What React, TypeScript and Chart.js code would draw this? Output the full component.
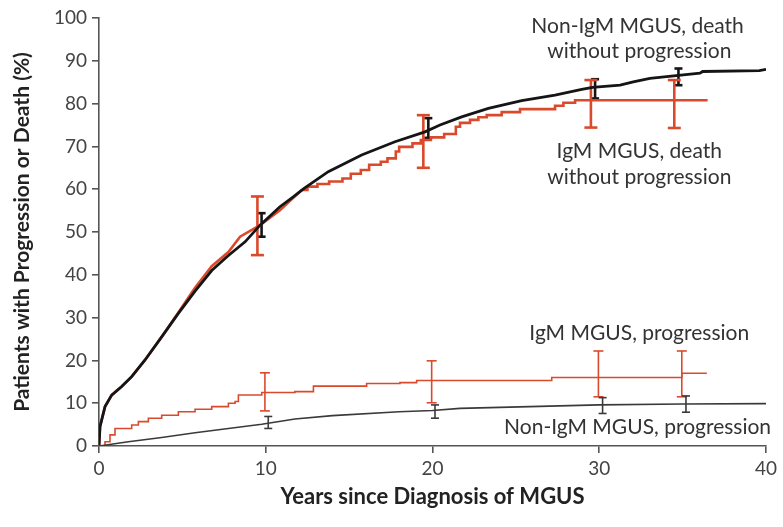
import React, { useEffect, useRef } from "react";
import { Chart, registerables } from "chart.js";

Chart.register(...registerables);

// ---- Data ----
const xTicks = [0, 10, 20, 30, 40];
const yTicks = [0, 10, 20, 30, 40, 50, 60, 70, 80, 90, 100];

// Non-IgM MGUS, death without progression (black, thick)
const nonIgmDeathYears = [0, 0.06, 0.36, 0.76, 1.36, 1.96, 2.76, 3.76, 4.76, 5.76, 6.76, 7.76, 8.76, 9.66, 10.85, 11.65, 12.3, 13.75, 15.75, 17.75, 19.55, 20.45, 21.75, 23.35, 25.35, 27.35, 28.95, 29.6, 31.25, 32.04, 33.04, 34.04, 35.04, 36.04, 36.2, 39.6, 40];
const nonIgmDeathPct = [0, 4.5, 9.2, 11.9, 13.9, 16.2, 20.1, 25.5, 31, 36.2, 41, 44.5, 47.7, 51.6, 55.9, 58.2, 60.2, 64.1, 68, 71.1, 73.4, 75, 76.9, 78.9, 80.7, 82, 83.3, 83.8, 84.3, 85.1, 85.9, 86.3, 86.7, 87.1, 87.5, 87.7, 88];

// IgM MGUS, death without progression (red, thick) - early smooth part
const igmDeathEarlyYears = [0, 0.06, 0.36, 0.76, 1.36, 1.96, 2.76, 3.76, 4.76, 5.76, 6.76, 7.76, 8.46, 9.66, 10.85, 11.65, 12.15];
const igmDeathEarlyPct = [0, 4.5, 9.2, 11.9, 13.9, 16.2, 20.1, 25.5, 31.2, 37, 42, 45.3, 48.9, 51.6, 55.1, 58, 59.8];
// later stepped part
const igmDeathLateYears = [12.15, 12.5, 13.1, 13.8, 14.6, 15.1, 15.7, 16.2, 16.9, 17.3, 17.8, 18.0, 18.8, 19.3, 19.9, 20.7, 21.4, 21.65, 22.25, 22.75, 23.25, 24.15, 25.25, 27.35, 27.85, 28.55, 36.5];
const igmDeathLatePct = [59.8, 60.6, 61.2, 61.8, 62.5, 63.6, 64.5, 65.7, 66.4, 67.2, 68.8, 69.9, 70.7, 71.5, 72.1, 72.9, 74.6, 75.5, 76.2, 76.8, 77.3, 78, 78.7, 79.5, 80.2, 80.8, 80.8];

// IgM MGUS, progression (red, thin, stepped)
const igmProgYears = [0, 0.36, 0.66, 0.96, 1.96, 2.36, 2.96, 3.76, 4.76, 5.76, 6.76, 7.76, 8.16, 8.36, 9.76, 11.75, 12.86, 16.05, 18.05, 19.05, 27.15, 34.95, 36.45];
const igmProgPct = [0, 1, 2.6, 4.1, 4.9, 5.7, 6.5, 7.2, 8.0, 8.6, 9.2, 10.0, 10.4, 11.9, 12.5, 12.7, 14, 14.6, 14.8, 15.3, 16, 17, 17];

// Non-IgM MGUS, progression (black, thin)
const nonIgmProgYears = [0, 1.76, 3.76, 5.76, 7.76, 9.76, 11.75, 14, 18, 20, 21.65, 30, 35, 40];
const nonIgmProgPct = [0, 1, 2, 3.1, 4.1, 5.1, 6.3, 7.1, 8.0, 8.3, 8.8, 9.6, 9.8, 9.9];

// Confidence intervals: [year, low, high]
const nonIgmDeathCI = [[9.75, 48.9, 54.4], [19.75, 72, 76.6], [29.75, 81.2, 85.7], [34.75, 84.3, 88.2]];
const igmDeathCI = [[9.5, 44.6, 58.3], [19.45, 65, 77.3], [29.5, 74.4, 85.5], [34.5, 74.3, 85.5]];
const igmProgCI = [[9.95, 8.2, 17.1], [19.95, 10.1, 19.9], [29.95, 11.5, 22.2], [34.95, 11.5, 22.2]];
const nonIgmProgCI = [[10.15, 4.1, 6.9], [20.15, 6.5, 9.6], [30.2, 7.6, 11.3], [35.2, 7.9, 11.7]];

// Curve labels: [text, year, pct]
const curveLabels: [string, number, number][] = [
  ["Non-IgM MGUS, death", 32.3, 98],
  ["without progression", 32.4, 92.2],
  ["IgM MGUS, death", 32.4, 68.8],
  ["without progression", 32.4, 62.9],
  ["IgM MGUS, progression", 32.4, 26.3],
  ["Non-IgM MGUS, progression", 32.3, 4.5],
];

const RED = "#d94a2c";
const BLACK = "#151515";
const DARK = "#3a3a3a";
const AXIS = "#555555";
const FONT = "Lato, 'Open Sans', sans-serif";

const pts = (xs: number[], ys: number[]) => xs.map((x, i) => ({ x, y: ys[i] }));

function curve(xs: number[], ys: number[], color: string, width: number, stepped: boolean) {
  return {
    type: "line" as const,
    data: pts(xs, ys),
    borderColor: color,
    borderWidth: width,
    pointRadius: 0,
    stepped: stepped,
    tension: 0,
    fill: false,
  };
}

function ciSets(ci: number[][], color: string, width: number, cap: number) {
  return ci.map(([x, lo, hi]) => ({
    type: "line" as const,
    data: [{ x, y: lo }, { x, y: hi }],
    borderColor: color,
    borderWidth: width,
    pointStyle: "line" as const,
    pointRadius: cap,
    pointBorderColor: color,
    pointBorderWidth: width,
    pointHoverRadius: cap,
    fill: false,
  }));
}

const labelPlugin = {
  id: "curveLabels",
  afterDatasetsDraw(chart: any) {
    const { ctx, scales } = chart;
    ctx.save();
    ctx.font = `21px ${FONT}`;
    ctx.fillStyle = "#333333";
    ctx.textAlign = "center";
    ctx.textBaseline = "middle";
    for (const [t, x, y] of curveLabels) {
      ctx.fillText(t, scales.x.getPixelForValue(x), scales.y.getPixelForValue(y));
    }
    ctx.restore();
  },
};

export default function App() {
  const ref = useRef<HTMLCanvasElement | null>(null);
  useEffect(() => {
    if (!ref.current) return;
    const chart = new Chart(ref.current, {
      type: "line",
      data: {
        datasets: [
          curve(nonIgmProgYears, nonIgmProgPct, DARK, 1.6, false),
          curve(igmProgYears, igmProgPct, RED, 1.6, true),
          curve(nonIgmDeathYears, nonIgmDeathPct, BLACK, 2.8, false),
          curve(igmDeathEarlyYears, igmDeathEarlyPct, RED, 2.6, false),
          curve(igmDeathLateYears, igmDeathLatePct, RED, 2.6, true),
          ...ciSets(nonIgmProgCI, DARK, 1.6, 4),
          ...ciSets(igmProgCI, RED, 1.6, 5),
          ...ciSets(igmDeathCI, RED, 2.6, 6.5),
          ...ciSets(nonIgmDeathCI, BLACK, 2.6, 4),
        ] as any,
      },
      options: {
        animation: false,
        responsive: false,
        layout: { padding: { left: 0, right: 17, top: 18, bottom: 0 } },
        plugins: { legend: { display: false }, tooltip: { enabled: false } },
        events: [],
        scales: {
          x: {
            type: "linear",
            min: 0,
            max: 40,
            afterFit: (s: any) => { s.height = 81; },
            afterBuildTicks: (s: any) => { s.ticks = xTicks.map((v) => ({ value: v })); },
            ticks: { color: "#444", font: { family: FONT, size: 19 }, padding: 4 },
            grid: { display: true, drawOnChartArea: false, drawTicks: true, tickLength: 7, color: AXIS, lineWidth: 1.6 },
            border: { display: true, color: AXIS, width: 1.6 },
            title: { display: true, text: "Years since Diagnosis of MGUS", color: "#222", font: { family: FONT, size: 22, weight: "bold" }, padding: { top: 0, bottom: 17 } },
          },
          y: {
            type: "linear",
            min: 0,
            max: 100,
            afterFit: (s: any) => { s.width = 99; },
            afterBuildTicks: (s: any) => { s.ticks = yTicks.map((v) => ({ value: v })); },
            ticks: { color: "#444", font: { family: FONT, size: 19 }, padding: 5 },
            grid: { display: true, drawOnChartArea: false, drawTicks: true, tickLength: 7, color: AXIS, lineWidth: 1.6 },
            border: { display: true, color: AXIS, width: 1.6 },
            title: { display: true, text: "Patients with Progression or Death (%)", color: "#222", font: { family: FONT, size: 21, weight: "bold" }, padding: { top: 10, bottom: 0 } },
          },
        },
      },
      plugins: [labelPlugin],
    });
    return () => chart.destroy();
  }, []);
  return (
    <div style={{ position: "fixed", left: 0, top: 0, width: 783, height: 527, background: "#fff" }}>
      <canvas ref={ref} width={783} height={527} />
    </div>
  );
}
